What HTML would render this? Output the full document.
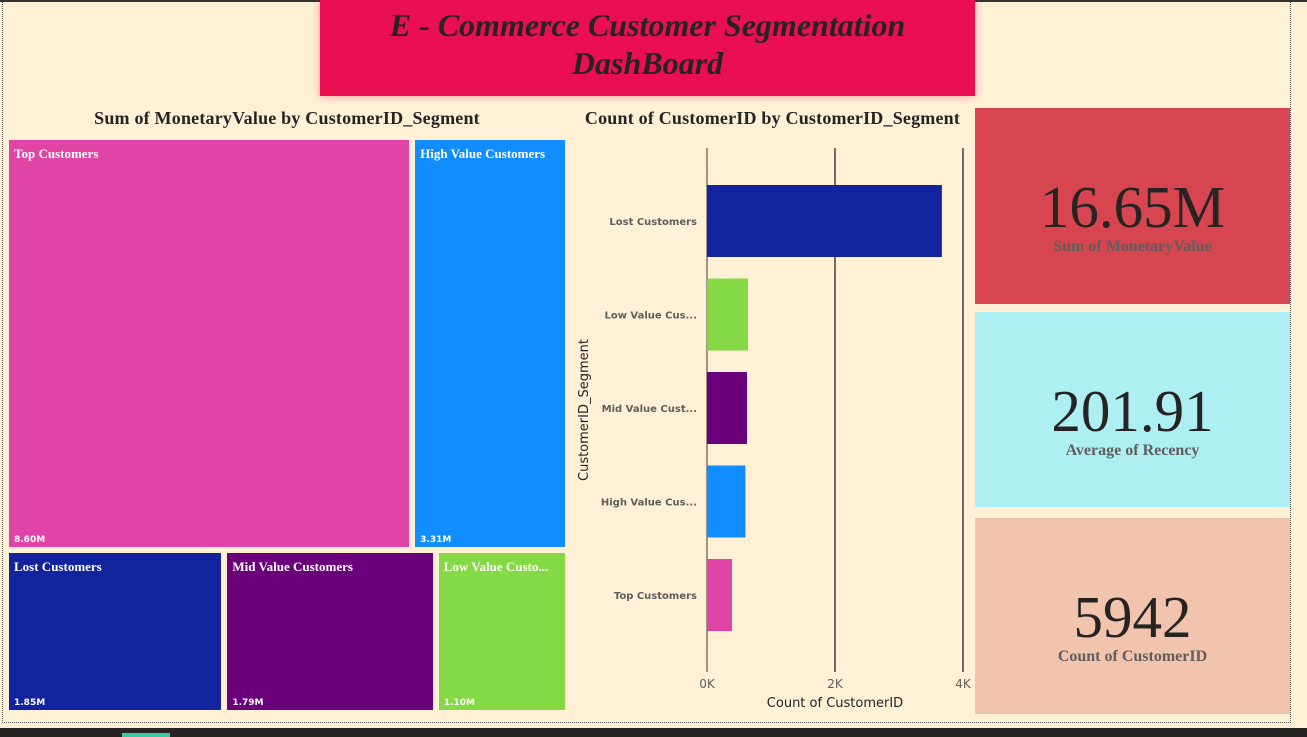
<!DOCTYPE html>
<html><head><meta charset="utf-8"><style>
body{margin:0;width:1307px;height:737px;overflow:hidden;background:#fff0d6;position:relative;font-family:"Liberation Serif",serif}
.abs{position:absolute}
.kpi{position:absolute;left:975px;width:315px;text-align:center}
.kv{font-size:59px;color:#252423;line-height:62px}
.kl{font-size:16px;font-weight:bold;color:#605e5c}
</style></head><body>
<div class="abs" style="left:0;top:0;width:1307px;height:2px;background:#333"></div>
<div class="abs" style="left:0;top:728px;width:1307px;height:9px;background:#252423"></div>
<div class="abs" style="left:122px;top:733px;width:48px;height:4px;background:#3cc8a0"></div>
<div class="abs" style="left:2px;top:2px;width:1287px;height:720px;border:1px dotted #555;border-top:none"></div>
<div class="abs" style="left:320px;top:0;width:655px;height:96px;background:#ea0e52;box-shadow:0 0 8px rgba(234,14,82,.4);text-align:center;font-style:italic;font-weight:bold;font-size:32px;line-height:38px;color:#252423;padding-top:6px;box-sizing:border-box">E - Commerce Customer Segmentation<br>DashBoard</div>
<div class="abs" style="left:9px;top:108px;width:556px;text-align:center;font-weight:bold;font-size:18px;color:#252423;letter-spacing:0.2px">Sum of MonetaryValue by CustomerID_Segment</div>
<div class="abs" style="left:570px;top:108px;width:405px;text-align:center;font-weight:bold;font-size:18px;color:#252423;letter-spacing:0.2px">Count of CustomerID by CustomerID_Segment</div>
<div id="tm"></div>
<svg class="abs" style="left:0;top:0" width="1307" height="737" id="bc"></svg>
<div class="kpi" style="top:108px;height:196px;background:#d64550"><div class="kv" style="margin-top:68px">16.65M</div><div class="kl">Sum of MonetaryValue</div></div>
<div class="kpi" style="top:312px;height:195px;background:#aeeff4"><div class="kv" style="margin-top:68px">201.91</div><div class="kl">Average of Recency</div></div>
<div class="kpi" style="top:518px;height:196px;background:#f2c4ae"><div class="kv" style="margin-top:68px">5942</div><div class="kl">Count of CustomerID</div></div>
<script>
const tmTop=["Top Customers","High Value Customers"];
const tmTopVals=[8.60,3.31];
const tmBot=["Lost Customers","Mid Value Customers","Low Value Custo..."];
const tmBotVals=[1.85,1.79,1.10];
const tmTopColors=["#e044a7","#118dff"];
const tmBotColors=["#12239e","#6b007b","#84d945"];
const barCats=["Lost Customers","Low Value Cus...","Mid Value Cust...","High Value Cus...","Top Customers"];
const barVals=[3670,640,625,600,390];
const barColors=["#12239e","#84d945","#6b007b","#118dff","#e044a7"];
const xTicks=[0,2000,4000];
const xTickLabels=["0K","2K","4K"];

(function(){
const X0=9,X1=565,Y0=140,Y1=712,G=6;
const sT=tmTopVals.reduce((a,b)=>a+b,0),sB=tmBotVals.reduce((a,b)=>a+b,0);
const H=Y1-Y0-G;const hT=H*sT/(sT+sB);
const tm=document.getElementById('tm');
function row(names,vals,cols,y,h,s,wg){let x=X0;const W=X1-X0-G*(vals.length-1);
vals.forEach((v,i)=>{const w=W*v/s;const d=document.createElement('div');


d.className='abs';d.style.cssText=`left:${x+(i?wg:0)}px;top:${y}px;width:${w-(i?wg:-wg)}px;height:${h}px;background:${cols[i]};color:#fff;font-family:"Liberation Serif",serif`;
d.innerHTML=`<div style="position:absolute;left:5px;top:6px;font-weight:bold;font-size:13px;white-space:nowrap">${names[i]}</div><div style="position:absolute;left:5px;bottom:2px;font-family:'DejaVu Sans',sans-serif;font-weight:bold;font-size:9px">${v.toFixed(2)}M</div>`;
tm.appendChild(d);x+=w+G;});}
row(tmTop,tmTopVals,tmTopColors,Y0,hT+2,sT,3);
row(tmBot,tmBotVals,tmBotColors,Y0+hT+G+2,H-hT-4,sB,0);
})();

(function(){
const svg=document.getElementById('bc');const NS='http://www.w3.org/2000/svg';
const xs=v=>707+v*(963-707)/4000;const band=93.5,y0=185,bh=72;
function el(t,a,txt){const e=document.createElementNS(NS,t);for(const k in a)e.setAttribute(k,a[k]);if(txt!=null)e.textContent=txt;svg.appendChild(e);return e;}
xTicks.forEach((t,i)=>{const g=el('line',{x1:xs(t),x2:xs(t),y1:148,y2:672,stroke:i==0?'#6b6357':'#252423','stroke-width':1.3});


const l=el('text',{x:xs(t),y:688,'text-anchor':'middle','font-size':12,fill:'#605e5c','font-family':'DejaVu Sans, sans-serif'},xTickLabels[i]);

});
barCats.forEach((c,i)=>{const y=y0+i*band;
const r=el('rect',{x:xs(0),y:y,width:xs(barVals[i])-xs(0),height:bh,fill:barColors[i]});


const t=el('text',{x:697,y:y+bh/2+4,'text-anchor':'end','font-size':10,'font-weight':'bold',fill:'#605e5c','font-family':'DejaVu Sans, sans-serif'},c);

});
const xt=el('text',{x:835,y:707,'text-anchor':'middle','font-size':13,fill:'#252423','font-family':'DejaVu Sans, sans-serif'},'Count of CustomerID');


const yt=el('text',{x:0,y:0,'text-anchor':'middle','font-size':13,fill:'#252423','font-family':'DejaVu Sans, sans-serif',transform:'translate(588,410) rotate(-90)'},'CustomerID_Segment');


})();
</script>
</body></html>
